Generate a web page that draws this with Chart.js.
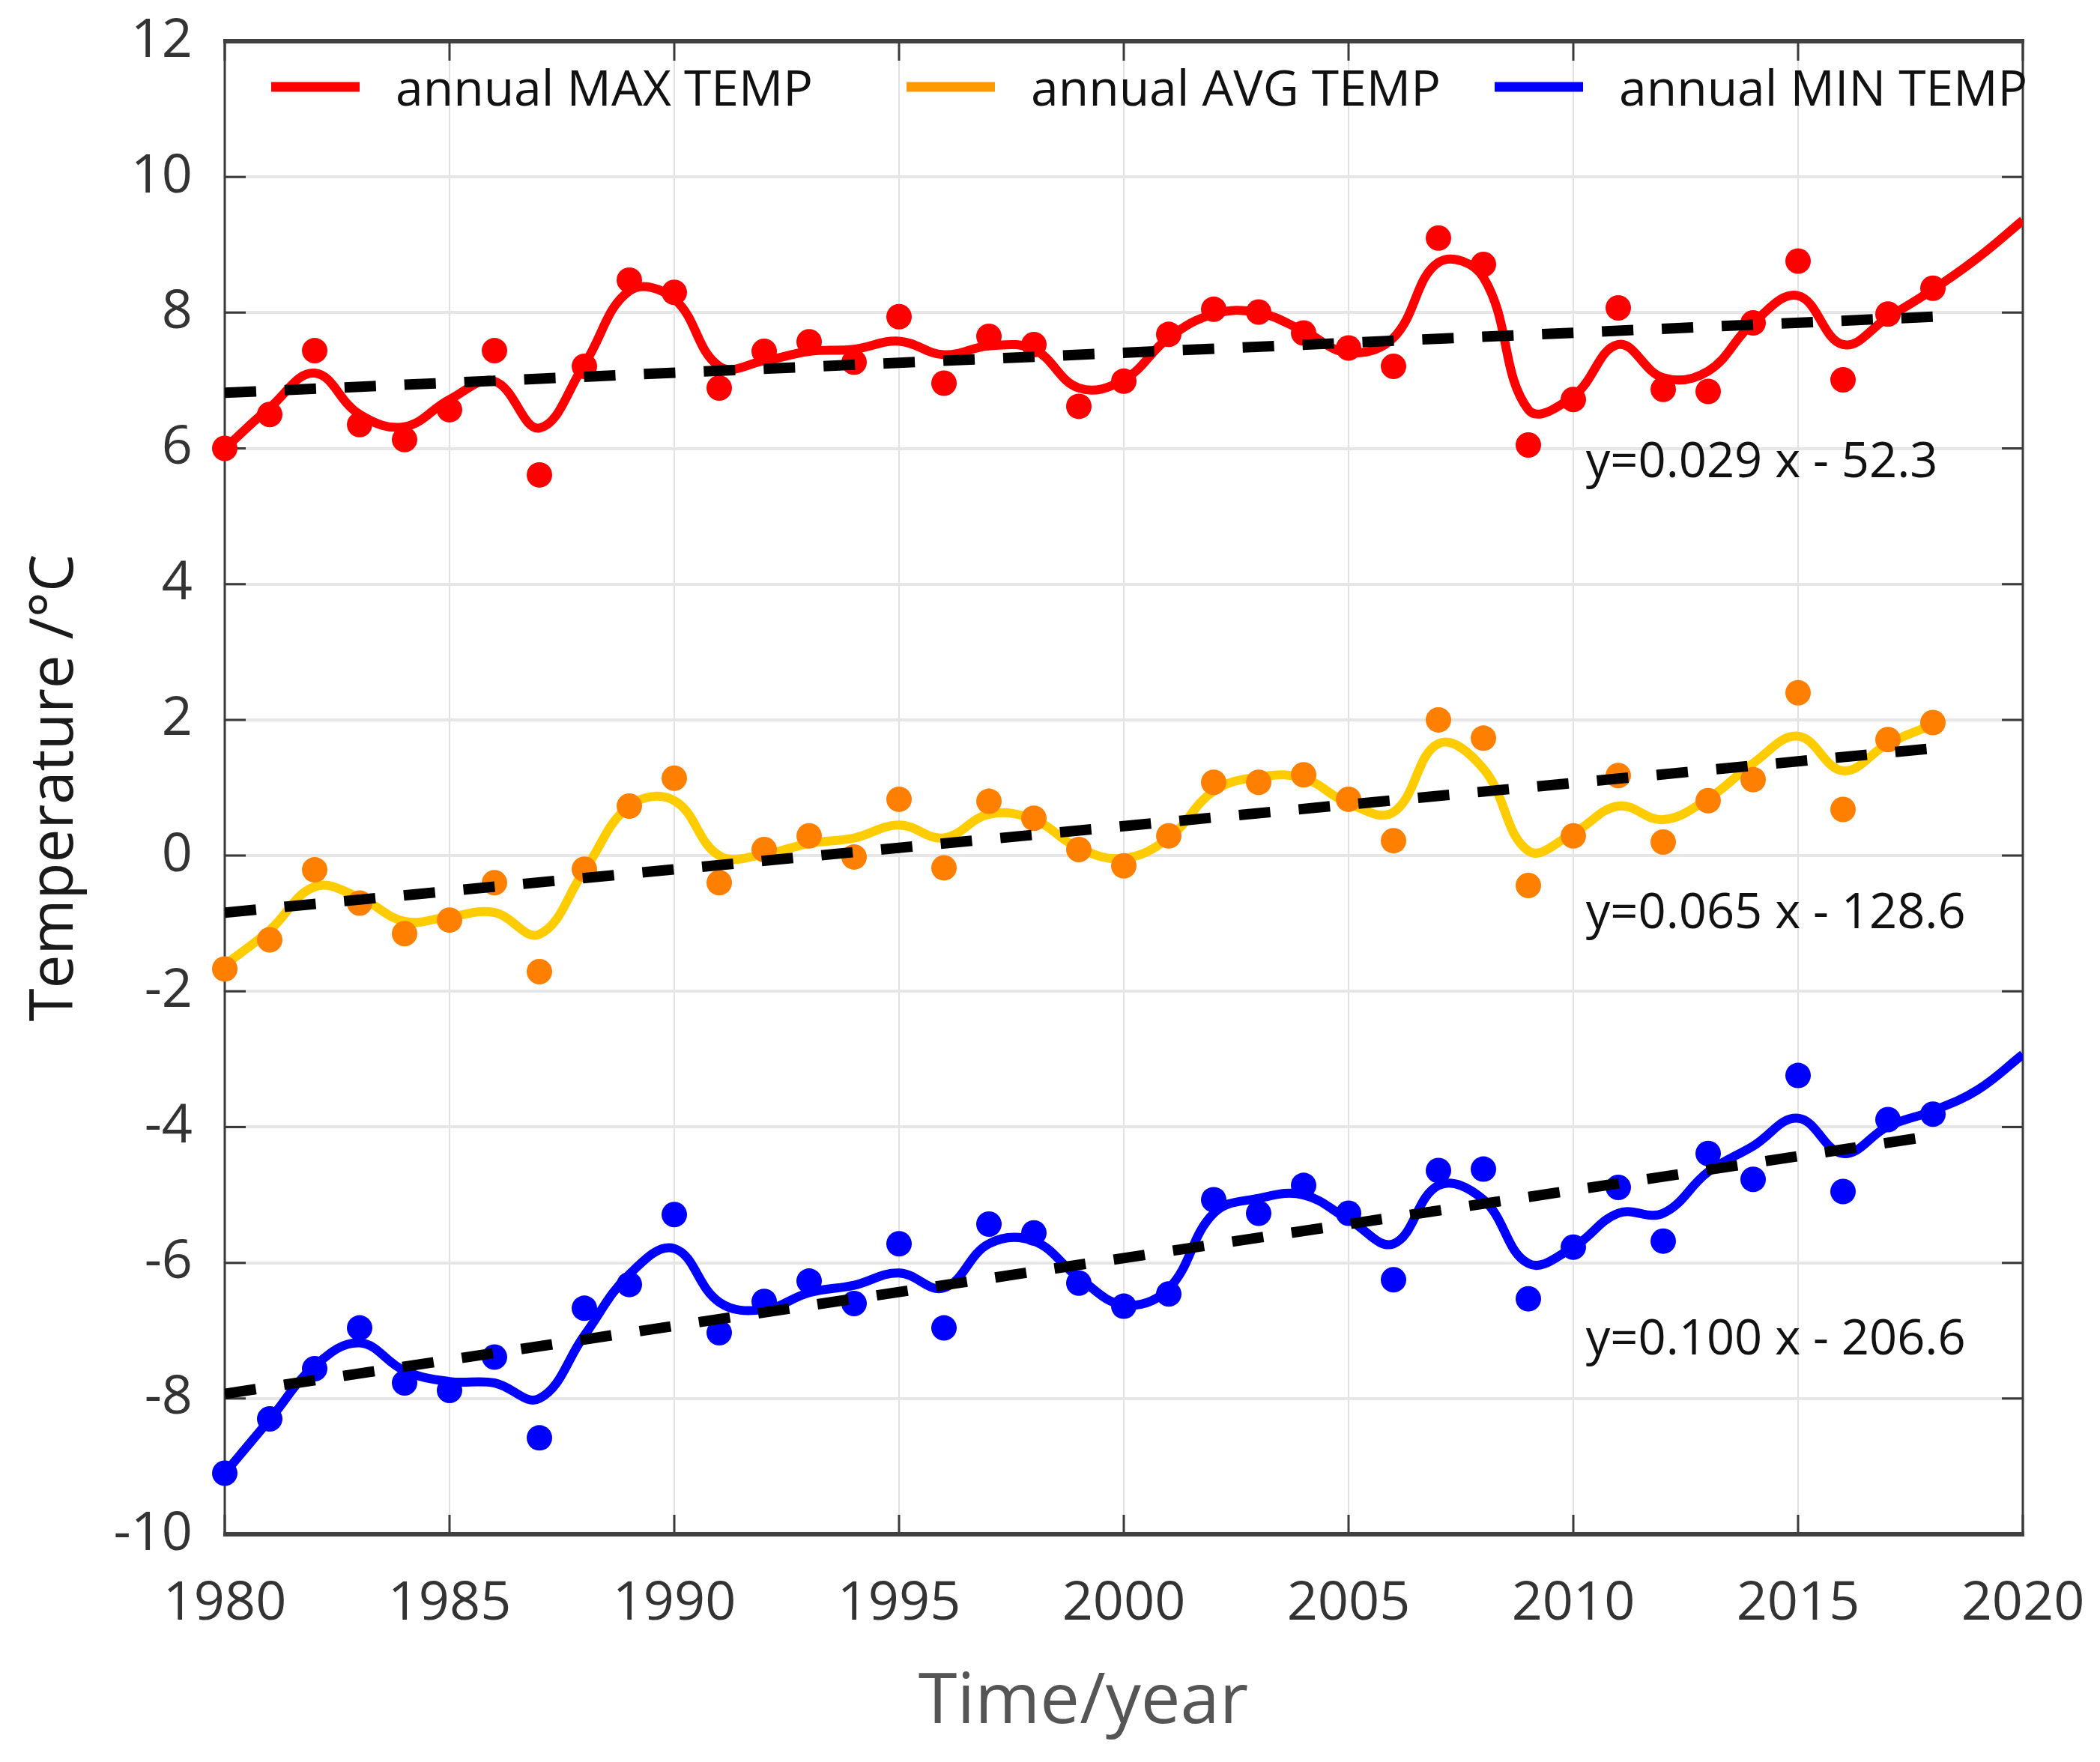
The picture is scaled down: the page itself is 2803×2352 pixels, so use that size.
<!DOCTYPE html>
<html>
<head>
<meta charset="utf-8">
<script src="https://cdn.jsdelivr.net/npm/chart.js@4.4.1/dist/chart.umd.min.js"></script>
<style>
  html, body { margin: 0; padding: 0; background: #fff; overflow: hidden; }
  #wrap { width: 2803px; height: 2352px; }
  canvas { display: block; }
</style>
</head>
<body>
<div id="wrap"><canvas id="chart" width="2803" height="2352"></canvas></div>
<script>
// observation years (dots) and years covered by the smoothed curves
const years = [1980, 1981, 1982, 1983, 1984, 1985, 1986, 1987, 1988, 1989,
  1990, 1991, 1992, 1993, 1994, 1995, 1996, 1997, 1998, 1999,
  2000, 2001, 2002, 2003, 2004, 2005, 2006, 2007, 2008, 2009,
  2010, 2011, 2012, 2013, 2014, 2015, 2016, 2017, 2018];
const curveYears = [1980, 1981, 1982, 1983, 1984, 1985, 1986, 1987, 1988, 1989,
  1990, 1991, 1992, 1993, 1994, 1995, 1996, 1997, 1998, 1999,
  2000, 2001, 2002, 2003, 2004, 2005, 2006, 2007, 2008, 2009,
  2010, 2011, 2012, 2013, 2014, 2015, 2016, 2017, 2018, 2019, 2020];
const trendYears = [1980, 2018];

const maxDots = [6.00, 6.50, 7.44, 6.35, 6.13, 6.57, 7.44, 5.61, 7.21, 8.48,
  8.30, 6.89, 7.43, 7.57, 7.27, 7.94, 6.96, 7.65, 7.53, 6.62,
  6.99, 7.68, 8.05, 8.01, 7.70, 7.48, 7.21, 9.10, 8.71, 6.05,
  6.72, 8.07, 6.87, 6.84, 7.85, 8.76, 7.01, 7.98, 8.36];
const avgDots = [-1.67, -1.24, -0.21, -0.70, -1.15, -0.95, -0.40, -1.71, -0.20, 0.73,
  1.14, -0.40, 0.09, 0.29, -0.02, 0.83, -0.18, 0.80, 0.55, 0.09,
  -0.15, 0.29, 1.08, 1.08, 1.19, 0.83, 0.22, 2.00, 1.73, -0.44,
  0.29, 1.18, 0.20, 0.81, 1.12, 2.40, 0.68, 1.71, 1.96];
const minDots = [-9.10, -8.30, -7.56, -6.96, -7.77, -7.88, -7.39, -8.58, -6.67, -6.32,
  -5.29, -7.03, -6.57, -6.27, -6.60, -5.72, -6.96, -5.43, -5.56, -6.30,
  -6.64, -6.46, -5.07, -5.27, -4.86, -5.27, -6.25, -4.64, -4.62, -6.53,
  -5.77, -4.89, -5.68, -4.39, -4.77, -3.24, -4.95, -3.89, -3.81];

const maxCurve = [6.00, 6.60, 7.11, 6.50, 6.32, 6.72, 6.99, 6.30, 7.24, 8.32,
  8.20, 7.21, 7.29, 7.43, 7.46, 7.58, 7.38, 7.51, 7.46, 6.89,
  7.01, 7.63, 7.98, 8.00, 7.73, 7.41, 7.63, 8.74, 8.52, 6.57,
  6.77, 7.53, 7.04, 7.14, 7.85, 8.25, 7.53, 7.93, 8.34, 8.81, 9.36];
const avgCurve = [-1.61, -1.10, -0.46, -0.62, -0.97, -0.90, -0.84, -1.16, -0.22, 0.73,
  0.81, 0.00, 0.02, 0.18, 0.26, 0.45, 0.26, 0.61, 0.53, 0.11,
  -0.04, 0.26, 0.95, 1.16, 1.14, 0.77, 0.64, 1.65, 1.28, 0.07,
  0.33, 0.73, 0.53, 0.84, 1.36, 1.76, 1.25, 1.65, 1.93];
const minCurve = [-9.10, -8.31, -7.52, -7.18, -7.59, -7.75, -7.77, -8.00, -7.07, -6.17,
  -5.79, -6.58, -6.69, -6.44, -6.33, -6.15, -6.37, -5.72, -5.68, -6.22,
  -6.62, -6.38, -5.27, -5.05, -5.00, -5.36, -5.72, -4.86, -5.07, -6.01,
  -5.77, -5.27, -5.27, -4.66, -4.28, -3.87, -4.39, -3.99, -3.76, -3.45, -2.93];

const maxTrend = [6.82, 7.94];
const avgTrend = [-0.84, 1.58];
const minTrend = [-7.93, -4.13];

const legendLabels = ['annual MAX TEMP', 'annual AVG TEMP', 'annual MIN TEMP'];
const equations = ['y=0.029 x - 52.3', 'y=0.065 x - 128.6', 'y=0.100 x - 206.6'];

const FONT = '"Open Sans", "Noto Sans", sans-serif';
const AREA = { left: 300, top: 55, right: 2700, bottom: 2048 };

const pts = (xs, ys) => ys.map((v, i) => ({ x: xs[i], y: v }));

const curve = (data, color) => ({
  data, borderColor: color, borderWidth: 12, pointRadius: 0,
  tension: 0.4, fill: false, order: 2
});
const dots = (data, color) => ({
  data, showLine: false, pointRadius: 17, pointBorderWidth: 0,
  pointBackgroundColor: color, backgroundColor: color, clip: false, order: 1
});
const trend = (data) => ({
  data, borderColor: '#000', borderWidth: 14, borderDash: [42, 38],
  borderCapStyle: 'butt', pointRadius: 0, tension: 0, order: 0
});

// frame, inward tick marks, legend, fit equations and x title
const decorations = {
  id: 'decorations',
  beforeDatasetsDraw(chart) {
    const { ctx, chartArea: a, scales: { x, y } } = chart;
    ctx.save();
    ctx.strokeStyle = '#3a3a3a';
    ctx.lineWidth = 3;
    y.ticks.forEach(t => {
      const py = y.getPixelForValue(t.value);
      ctx.beginPath();
      ctx.moveTo(a.left, py); ctx.lineTo(a.left + 28, py);
      ctx.moveTo(a.right, py); ctx.lineTo(a.right - 28, py);
      ctx.stroke();
    });
    x.ticks.forEach(t => {
      const px = x.getPixelForValue(t.value);
      ctx.beginPath();
      ctx.moveTo(px, a.top); ctx.lineTo(px, a.top + 26);
      ctx.moveTo(px, a.bottom); ctx.lineTo(px, a.bottom - 26);
      ctx.stroke();
    });
    ctx.beginPath();
    ctx.moveTo(a.left, a.top); ctx.lineTo(a.left, a.bottom);
    ctx.moveTo(a.right, a.top); ctx.lineTo(a.right, a.bottom);
    ctx.stroke();
    ctx.lineWidth = 6;
    ctx.strokeStyle = '#404040';
    ctx.beginPath();
    ctx.moveTo(a.left - 2, a.top); ctx.lineTo(a.right + 2, a.top);
    ctx.moveTo(a.left - 2, a.bottom); ctx.lineTo(a.right + 2, a.bottom);
    ctx.stroke();
    ctx.restore();
  },
  afterDatasetsDraw(chart) {
    const { ctx, chartArea: a, scales: { x, y } } = chart;
    ctx.save();
    const legendColors = ['#ff0000', '#ff9900', '#0000ff'];
    const legendX = [62, 910, 1695];
    ctx.font = '66px ' + FONT;
    ctx.textAlign = 'left';
    legendLabels.forEach((lab, i) => {
      const lx = a.left + legendX[i];
      ctx.strokeStyle = legendColors[i];
      ctx.lineWidth = 13;
      ctx.beginPath();
      ctx.moveTo(lx, a.top + 61); ctx.lineTo(lx + 118, a.top + 61);
      ctx.stroke();
      ctx.fillStyle = '#111';
      ctx.textBaseline = 'alphabetic';
      ctx.fillText(lab, lx + 166, a.top + 86);
    });
    // equation baselines, in data units
    const eqAt = [[2010.28, 5.57], [2010.28, -1.07], [2010.28, -7.35]];
    ctx.font = '65px ' + FONT;
    equations.forEach((t, i) => {
      ctx.fillText(t, x.getPixelForValue(eqAt[i][0]), y.getPixelForValue(eqAt[i][1]));
    });
    ctx.font = '94px ' + FONT;
    ctx.fillStyle = '#555';
    ctx.textAlign = 'center';
    ctx.fillText('Time/year', x.getPixelForValue(1999.1), 2300);
    ctx.restore();
  }
};

const pad = { top: 55, right: 103, left: 0, bottom: 0 };

const chart = new Chart(document.getElementById('chart'), {
  type: 'line',
  data: {
    datasets: [
      trend(pts(trendYears, maxTrend)),
      trend(pts(trendYears, avgTrend)),
      trend(pts(trendYears, minTrend)),
      dots(pts(years, maxDots), '#ff0000'),
      dots(pts(years, avgDots), '#ff8000'),
      dots(pts(years, minDots), '#0000ff'),
      curve(pts(curveYears, maxCurve), '#ff0000'),
      curve(pts(years, avgCurve), '#ffcc00'),
      curve(pts(curveYears, minCurve), '#0000ff')
    ]
  },
  options: {
    responsive: false,
    animation: false,
    devicePixelRatio: 1,
    layout: { padding: pad },
    plugins: { legend: { display: false }, tooltip: { enabled: false } },
    scales: {
      x: {
        type: 'linear', min: 1980, max: 2020,
        afterFit: s => { s.height = 304; s.paddingLeft = 0; s.paddingRight = 0; },
        ticks: { stepSize: 5, callback: v => String(v), color: '#333',
          font: { family: FONT, size: 72 }, padding: 50, maxRotation: 0 },
        grid: { color: '#e2e2e2', lineWidth: 2, drawTicks: false },
        border: { display: false },
        title: { display: false }
      },
      y: {
        min: -10, max: 12,
        afterFit: s => { s.width = 300; s.paddingTop = 0; s.paddingBottom = 0; },
        ticks: { stepSize: 2, color: '#333', font: { family: FONT, size: 72 }, padding: 43 },
        grid: { color: '#e6e6e6', lineWidth: 4, drawTicks: false },
        border: { display: false },
        title: { display: true, text: 'Temperature /°C', color: '#1a1a1a',
          font: { family: FONT, size: 80 }, padding: { top: 26, bottom: 0 } }
      }
    }
  },
  plugins: [decorations]
});

// nudge the layout padding until the plot box sits where the original has it
for (let k = 0; k < 3; k++) {
  const ca = chart.chartArea;
  pad.top += AREA.top - ca.top;
  pad.right += ca.right - AREA.right;
  pad.bottom += ca.bottom - AREA.bottom;
  chart.update();
}
</script>
</body>
</html>
